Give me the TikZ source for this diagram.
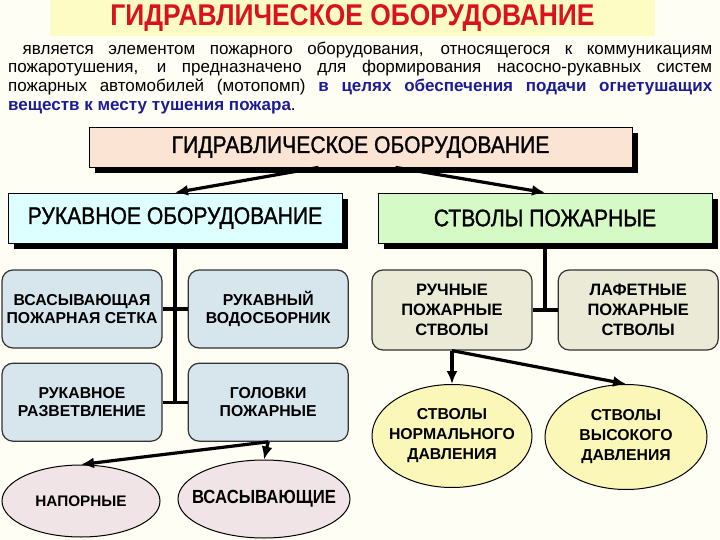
\documentclass[tikz,border=0pt]{standalone}
\usepackage{fontspec}
\setmainfont{Liberation Sans}
\newfontfamily\narrowfont{Liberation Sans}[FakeStretch=0.88]
\newfontfamily\boxfont{Liberation Sans}[FakeStretch=0.88, FakeBold=1.2]
\usepackage{xcolor}
\usetikzlibrary{arrows.meta, positioning, shadows, shapes.geometric}

\definecolor{paper}{RGB}{254,254,244}
\definecolor{band}{RGB}{252,252,196}
\definecolor{titlered}{RGB}{218,18,30}
\definecolor{textblue}{RGB}{28,28,150}
\definecolor{peach}{RGB}{252,228,212}
\definecolor{aqua}{RGB}{222,255,255}
\definecolor{mint}{RGB}{214,250,198}
\definecolor{steel}{RGB}{214,230,236}
\definecolor{beige}{RGB}{234,234,214}
\definecolor{lemon}{RGB}{250,247,184}
\definecolor{rose}{RGB}{240,228,230}

\begin{document}
\begin{tikzpicture}[
    x=1pt, y=-1pt,
    titleband/.style={
        fill=band,
        text=titlered,
        inner sep=0pt,
        minimum width=605pt,
        minimum height=36pt,
        font=\narrowfont\bfseries\fontsize{30}{30}\selectfont
    },
    mainbox/.style={
        draw,
        line width=0.8pt,
        inner sep=0pt,
        align=center,
        font=\boxfont\fontsize{24}{28}\selectfont,
        drop shadow={shadow xshift=6pt, shadow yshift=-6pt, fill=black, opacity=1}
    },
    part/.style={
        draw=black!80,
        line width=1.2pt,
        rounded corners=11pt,
        inner sep=0pt,
        align=center,
        minimum width=160pt,
        font=\bfseries\fontsize{15.8}{18}\selectfont
    },
    oval/.style={
        ellipse,
        draw,
        line width=1pt,
        inner xsep=-10pt,
        inner ysep=0pt,
        align=center,
        font=\bfseries\fontsize{15.8}{20}\selectfont
    },
    link/.style={line width=3.2pt},
    arrow/.style={-{Latex[length=13pt,width=11pt]}, line width=3.2pt}
]

\useasboundingbox[fill=paper] (0,0) rectangle (720,540);

% Heading and text
\node[titleband] (title) at (352.5,18) {ГИДРАВЛИЧЕСКОЕ ОБОРУДОВАНИЕ};

\node[anchor=north west, text width=704pt, align=justify, inner sep=0pt,
      font=\fontsize{17}{18.7}\selectfont] (intro) at (8,41.5) {\noindent
\ является элементом пожарного оборудования, относящегося к коммуникациям\linebreak
пожаротушения, и предназначено для формирования насосно-рукавных систем\linebreak
пожарных автомобилей (мотопомп) {\color{textblue}\bfseries в целях обеспечения подачи огнетушащих\linebreak
веществ к месту тушения пожара}.
};

% Main blocks
\node[mainbox, fill=peach, minimum width=543pt, minimum height=40pt] (hydro) at (360.5,147) {ГИДРАВЛИЧЕСКОЕ ОБОРУДОВАНИЕ};
\node[mainbox, fill=aqua, minimum width=334pt, minimum height=50pt] (hose) at (175,218) {РУКАВНОЕ ОБОРУДОВАНИЕ};
\node[mainbox, fill=mint, minimum width=334pt, minimum height=50pt] (barrels) at (545,218) {СТВОЛЫ ПОЖАРНЫЕ};

% Hose equipment
\node[part, fill=steel, minimum height=78pt] (sieve) at (82,309) {ВСАСЫВАЮЩАЯ\\ПОЖАРНАЯ СЕТКА};
\node[part, fill=steel, minimum height=78pt, right=25pt of sieve] (collector) {РУКАВНЫЙ\\ВОДОСБОРНИК};
\node[part, fill=steel, minimum height=78pt, below=14pt of sieve] (branch) {РУКАВНОЕ\\РАЗВЕТВЛЕНИЕ};
\node[part, fill=steel, minimum height=78pt, right=25pt of branch] (heads) {ГОЛОВКИ\\ПОЖАРНЫЕ};

\node[oval, fill=rose, minimum width=158pt, minimum height=72pt, font=\bfseries\fontsize{15.3}{18}\selectfont] (pressure) at (81,501) {НАПОРНЫЕ};
\node[oval, fill=rose, minimum width=172pt, minimum height=78pt, inner xsep=-16pt, font=\narrowfont\bfseries\fontsize{19}{22}\selectfont] (suction) at (264,499) {ВСАСЫВАЮЩИЕ};

% Fire nozzles
\node[part, fill=beige, minimum height=80pt, font=\bfseries\fontsize{16.5}{20}\selectfont] (manual) at (452,310) {РУЧНЫЕ\\ПОЖАРНЫЕ\\СТВОЛЫ};
\node[part, fill=beige, minimum height=80pt, font=\bfseries\fontsize{16.5}{20}\selectfont, right=25pt of manual] (monitor) {ЛАФЕТНЫЕ\\ПОЖАРНЫЕ\\СТВОЛЫ};

\node[oval, fill=lemon, minimum width=160pt, minimum height=103pt] (normal) at (452,436) {СТВОЛЫ\\НОРМАЛЬНОГО\\ДАВЛЕНИЯ};
\node[oval, fill=lemon, minimum width=162pt, minimum height=105pt] (high) at (626,437) {СТВОЛЫ\\ВЫСОКОГО\\ДАВЛЕНИЯ};

% Connections
\draw[arrow] ([xshift=-42pt]hydro.south) -- (hose.north);
\draw[arrow] ([xshift=35pt]hydro.south) -- (barrels.north);

\draw[link] (hose.south) -- (hose.south |- branch.east);
\draw[link] (sieve.east) -- (collector.west);
\draw[link] (branch.east) -- (heads.west);
\draw[arrow] (heads.south) -- (pressure.north);
\draw[arrow] (heads.south) -- (suction.north);

\draw[link] (barrels.south) -- (barrels.south |- manual.east);
\draw[link] (manual.east) -- (monitor.west);
\draw[arrow] (manual.south) -- (normal.north);
\draw[arrow] (manual.south) -- (high.north);

\end{tikzpicture}
\end{document}
